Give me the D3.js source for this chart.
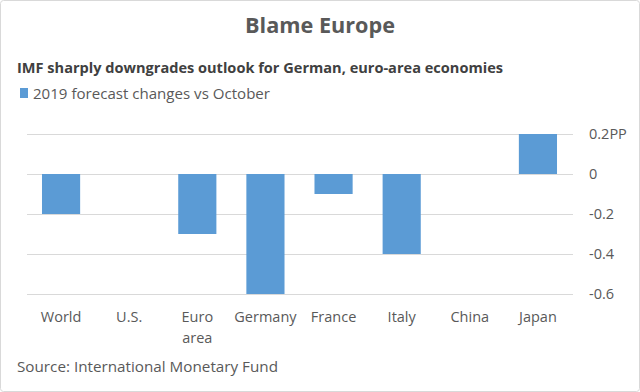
<!DOCTYPE html>
<html><head><meta charset="utf-8">
<script src="https://cdn.jsdelivr.net/npm/d3@7"></script>
<style>body{margin:0;background:#fff}svg{display:block}</style>
</head><body>
<svg id="c" width="640" height="392"></svg>
<script>
const categories = ["World", "U.S.", "Euro area", "Germany", "France", "Italy", "China", "Japan"];
const values = [-0.2, 0, -0.3, -0.6, -0.1, -0.4, 0, 0.2];
const tickValues = [0.2, 0, -0.2, -0.4, -0.6];
const tickLabels = ["0.2PP", "0", "-0.2", "-0.4", "-0.6"];
const title = "Blame Europe";
const subtitle = "IMF sharply downgrades outlook for German, euro-area economies";
const legendLabel = "2019 forecast changes vs October";
const source = "Source: International Monetary Fund";

const svg = d3.select("#c");
const font = "'Open Sans', sans-serif";
const grey = "#595959";

svg.append("rect").attr("x", 0.5).attr("y", 0.5).attr("width", 639).attr("height", 391)
  .attr("rx", 3).attr("fill", "#fff").attr("stroke", "#d9d9d9");

const x = d3.scaleBand().domain(categories).range([27, 572]).paddingInner(0.44).paddingOuter(0.22);
const y = d3.scaleLinear().domain([-0.6, 0.2]).range([294, 134]);

// gridlines
svg.append("g").selectAll("line").data(tickValues).join("line")
  .attr("x1", 27).attr("x2", 573)
  .attr("y1", d => Math.round(y(d)) + 0.5).attr("y2", d => Math.round(y(d)) + 0.5)
  .attr("stroke", "#d9d9d9").attr("stroke-width", 1);

// bars
svg.append("g").selectAll("rect").data(values).join("rect")
  .attr("x", (d, i) => x(categories[i]))
  .attr("width", x.bandwidth())
  .attr("y", d => y(Math.max(0, d)))
  .attr("height", d => Math.abs(y(d) - y(0)))
  .attr("fill", "#5B9BD5");

// right axis
const yAxis = d3.axisRight(y).tickValues(tickValues).tickSize(0)
  .tickFormat((d, i) => tickLabels[i]);
const ga = svg.append("g").attr("transform", "translate(583,0)").call(yAxis);
ga.select(".domain").remove();
ga.selectAll("text").attr("font-family", font).attr("font-size", 14.5).attr("fill", grey).attr("x", 6);

// x labels
const xl = svg.append("g").selectAll("text").data(categories).join("text")
  .attr("x", d => x(d) + x.bandwidth() / 2)
  .attr("y", 322)
  .attr("text-anchor", "middle")
  .attr("font-family", font).attr("font-size", 14.5).attr("fill", grey);
xl.each(function(d) {
  const parts = d === "Euro area" ? ["Euro", "area"] : [d];
  const t = d3.select(this);
  parts.forEach((p, k) => t.append("tspan").attr("x", x(d) + x.bandwidth() / 2).attr("dy", k ? 21 : 0).text(p));
});

// title
svg.append("text").attr("x", 320).attr("y", 33).attr("text-anchor", "middle")
  .attr("font-family", font).attr("font-weight", "bold").attr("font-size", 21.5).attr("fill", grey)
  .attr("textLength", 150).attr("lengthAdjust", "spacingAndGlyphs").text(title);

// subtitle
svg.append("text").attr("x", 17).attr("y", 73)
  .attr("font-family", font).attr("font-weight", "bold").attr("font-size", 15).attr("fill", "#404040")
  .attr("textLength", 486).attr("lengthAdjust", "spacingAndGlyphs").text(subtitle);

// legend
svg.append("rect").attr("x", 20).attr("y", 88).attr("width", 8).attr("height", 10).attr("fill", "#5B9BD5");
svg.append("text").attr("x", 33).attr("y", 99)
  .attr("font-family", font).attr("font-size", 15).attr("fill", grey)
  .attr("textLength", 237).attr("lengthAdjust", "spacingAndGlyphs").text(legendLabel);

// source
svg.append("text").attr("x", 17).attr("y", 372)
  .attr("font-family", font).attr("font-size", 15).attr("fill", grey)
  .attr("textLength", 261).attr("lengthAdjust", "spacingAndGlyphs").text(source);
</script>
</body></html>
